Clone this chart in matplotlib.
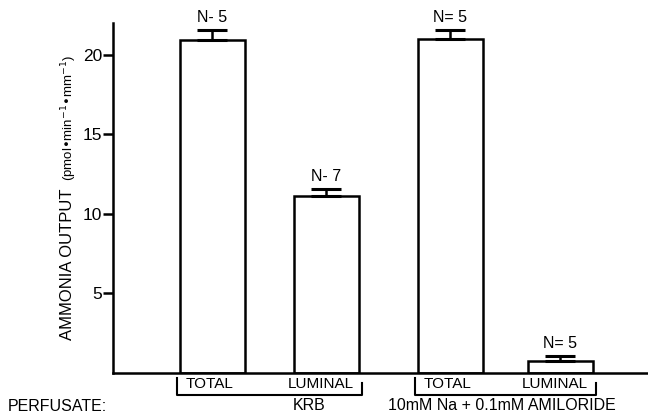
import matplotlib.pyplot as plt

plt.rcParams['font.family'] = ['Liberation Sans', 'DejaVu Sans']

# Ammonia output per perfusate / fraction
conditions = ['TOTAL', 'LUMINAL', 'TOTAL', 'LUMINAL']
output = [20.95, 11.15, 20.97, 0.75]
sem = [0.6, 0.42, 0.6, 0.32]
n_labels = ['N- 5', 'N- 7', 'N= 5', 'N= 5']
perfusates = ['KRB', '10mM Na + 0.1mM AMILORIDE']
yticks = [5, 10, 15, 20]

# bar layout on the x axis (pixel-like units)
xpos = [99, 213, 337, 447]
label_shift = [-2, -5, -2, -5]
width = 65

fig = plt.figure(figsize=(6.48, 4.19), dpi=100)
ax = fig.add_axes([113 / 648, 46 / 419, 535 / 648, 350 / 419])

ax.bar(xpos, output, width=width, color='white', edgecolor='black', linewidth=1.8)
ax.errorbar(xpos, output, yerr=[[0] * 4, sem], fmt='none', ecolor='black',
            elinewidth=1.8, capsize=11, capthick=2.2)

for x, v, e, t in zip(xpos, output, sem, n_labels):
    ax.text(x, v + e + 0.3, t, ha='center', va='bottom', fontsize=11.5)

ax.set_xlim(0, 535)
ax.set_ylim(0, 22)
ax.set_yticks(yticks)
ax.set_xticks([])
ax.tick_params(axis='y', direction='out', length=7, width=1.8, labelsize=12.5, pad=1)
for s in ['top', 'right']:
    ax.spines[s].set_visible(False)
for s in ['left', 'bottom']:
    ax.spines[s].set_linewidth(1.8)

# fraction labels under bars
for x, d, c in zip(xpos, label_shift, conditions):
    ax.text(x + d, -0.72, c, ha='center', va='center', fontsize=11, clip_on=False)

# brackets grouping each perfusate
for (a, b) in [(xpos[0], xpos[1]), (xpos[2], xpos[3])]:
    x0 = a - width / 2 - 3
    x1 = b + width / 2 + 3
    ax.plot([x0, x0, x1, x1], [-0.3, -1.38, -1.38, -0.6], color='black',
            linewidth=1.5, clip_on=False)

ax.text((xpos[0] + xpos[1]) / 2 + 40, -2.07, perfusates[0], ha='center', va='center',
        fontsize=11.5, clip_on=False)
ax.text((xpos[2] + xpos[3]) / 2 - 3, -2.07, perfusates[1], ha='center', va='center',
        fontsize=11.5, clip_on=False)
fig.text(8 / 648, 1 - 406 / 419, 'PERFUSATE:', ha='left', va='center', fontsize=11.5)

# y axis title in two sizes
fig.text(67 / 648, 79 / 419, 'AMMONIA OUTPUT', rotation=90, ha='center', va='bottom',
         fontsize=12)
fig.text(69 / 648, 1 - 55 / 419, '(pmol•min$^{-1}$•mm$^{-1}$)', rotation=90,
         ha='center', va='top', fontsize=9.5)

fig.savefig('out.png', dpi=100)
